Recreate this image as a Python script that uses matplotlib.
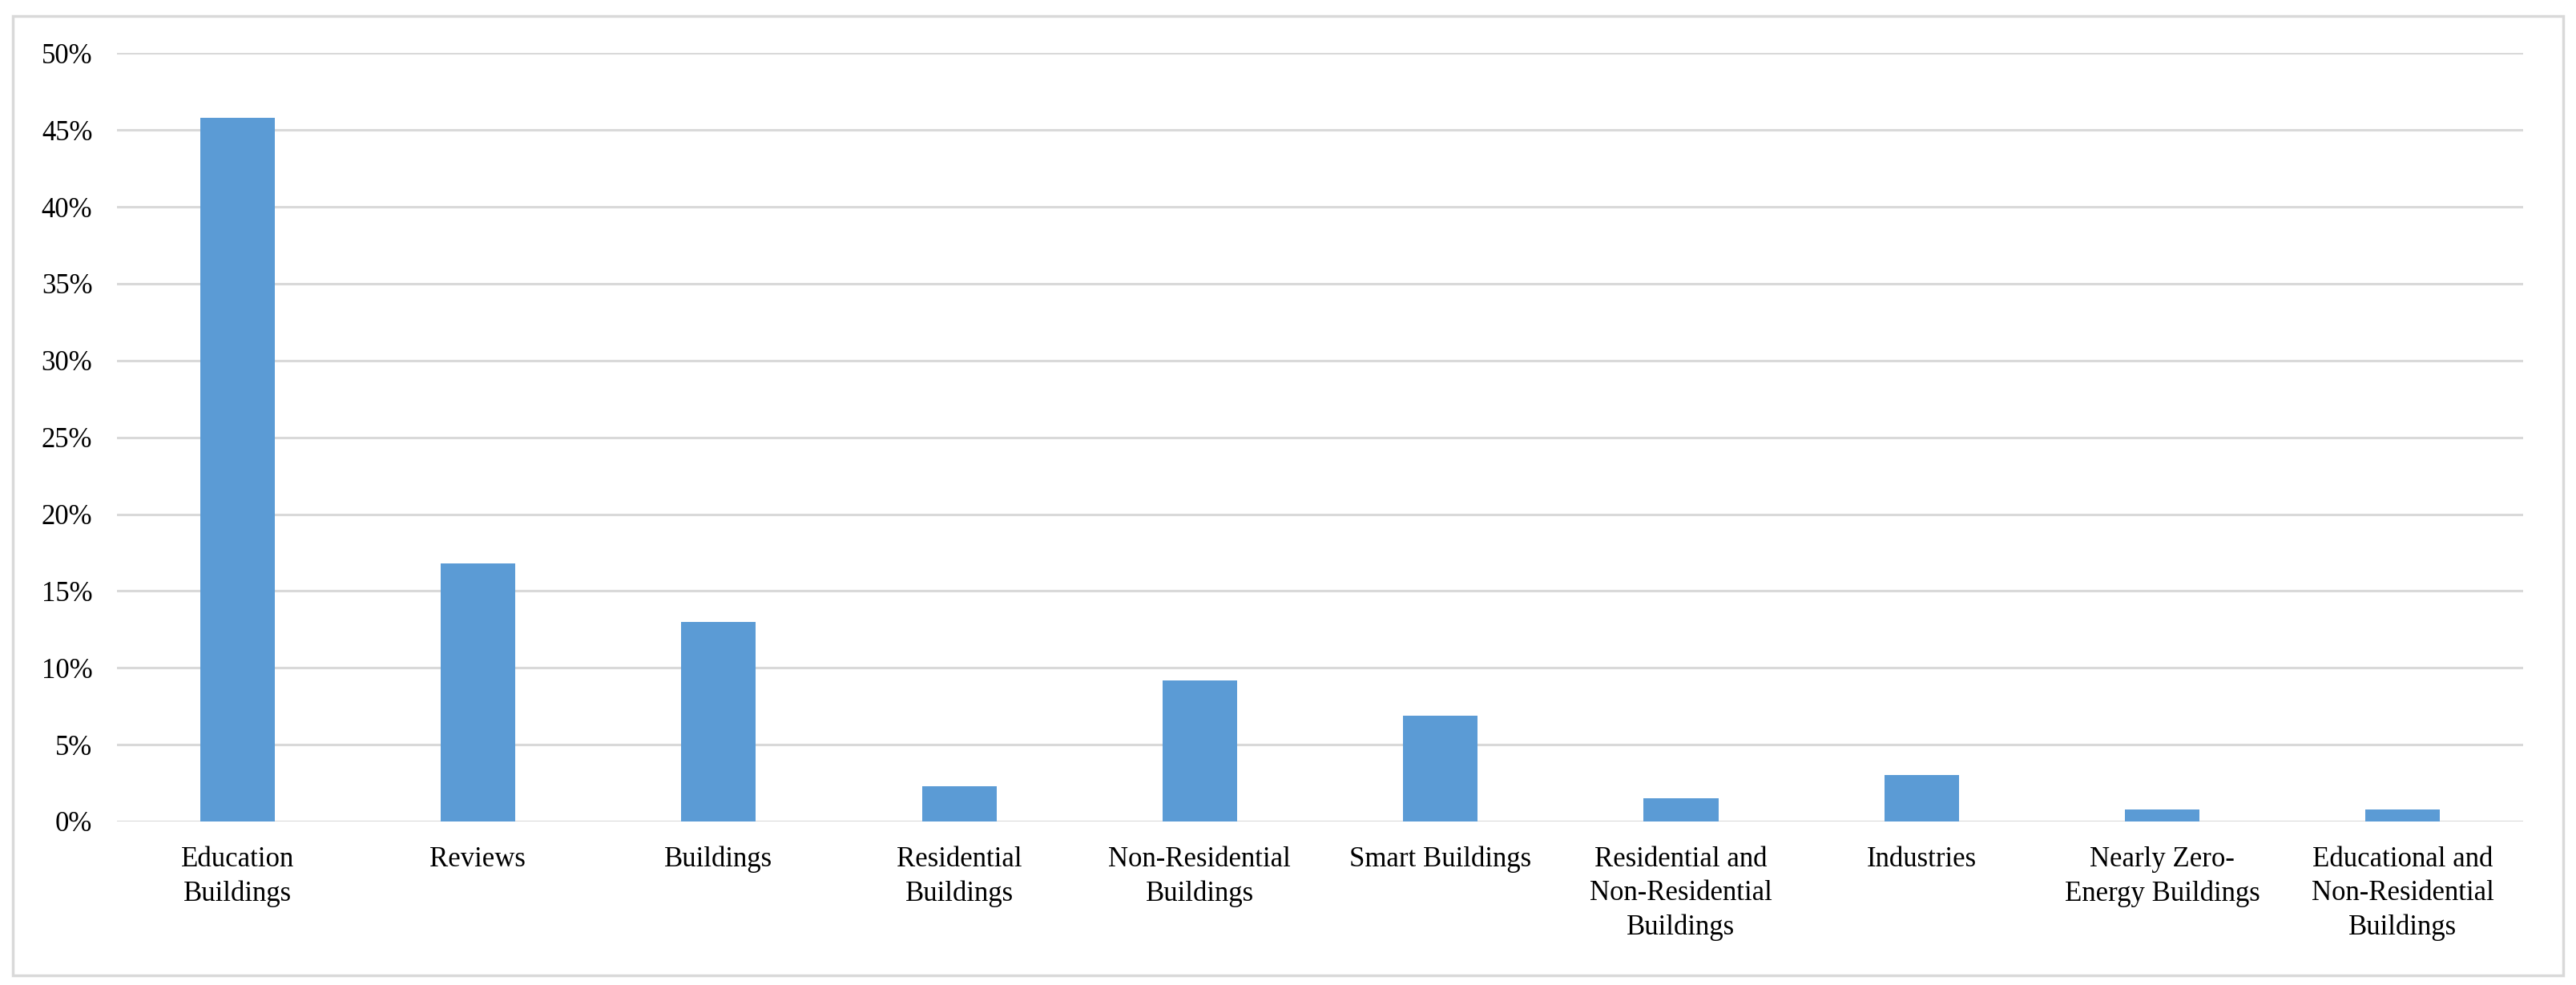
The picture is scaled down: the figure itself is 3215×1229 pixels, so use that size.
import numpy as np
import matplotlib.pyplot as plt
from matplotlib.patches import Rectangle
from matplotlib.ticker import PercentFormatter

plt.rcParams['font.family'] = ['Liberation Serif', 'DejaVu Serif']

# data (share of studies per category, %)
categorias = [
    'Education\nBuildings',
    'Reviews',
    'Buildings',
    'Residential\nBuildings',
    'Non-Residential\nBuildings',
    'Smart Buildings',
    'Residential and\nNon-Residential\nBuildings',
    'Industries',
    'Nearly Zero-\nEnergy Buildings',
    'Educational and\nNon-Residential\nBuildings',
]
percentuais = [45.8, 16.79, 12.98, 2.29, 9.16, 6.87, 1.53, 3.05, 0.76, 0.76]
ticks_y = [0, 5, 10, 15, 20, 25, 30, 35, 40, 45, 50]

fig = plt.figure(figsize=(32.15, 12.29), dpi=100)
ax = fig.add_axes([0.0454, 0.166, 0.9341, 0.780])

x = np.arange(len(categorias))
ax.bar(x, percentuais, width=0.31, color='#5B9BD5', zorder=3)

ax.set_xlim(-0.5, len(categorias) - 0.5)
ax.set_ylim(0, 50)
ax.set_yticks(ticks_y)
ax.yaxis.set_major_formatter(PercentFormatter(decimals=0))
ax.set_xticks(x)
ax.set_xticklabels(categorias, fontsize=25, linespacing=1.38)
ax.tick_params(axis='y', labelsize=25, length=0, pad=22)
ax.tick_params(axis='x', length=0, pad=22)

ax.grid(axis='y', color='#D9D9D9', linewidth=2.2, zorder=0)
ax.set_axisbelow(True)
for s in ax.spines.values():
    s.set_visible(False)

# moldura externa estilo Excel
fig.patches.append(Rectangle((0.005, 0.010), 0.990, 0.974, transform=fig.transFigure,
                             fill=False, edgecolor='#D9D9D9', linewidth=2.5))

fig.savefig('out.png', dpi=100, facecolor='white')
